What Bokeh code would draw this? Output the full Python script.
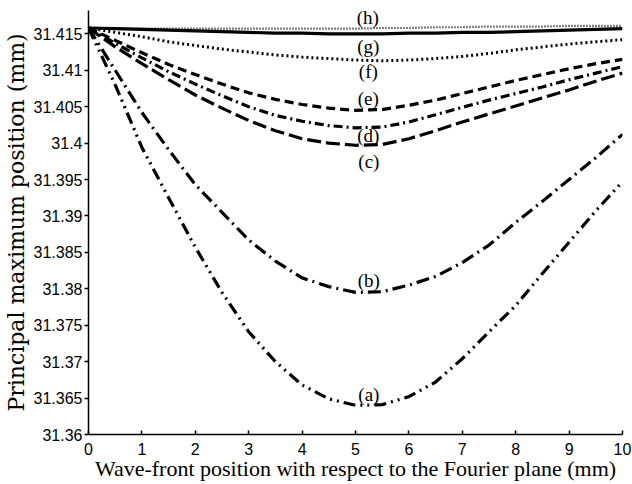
from bokeh.plotting import figure
from bokeh.models import Range1d, FixedTicker
from bokeh.embed import file_html
from bokeh.resources import INLINE
from bokeh.core.properties import value

# Wave-front position (mm)
x_mm = [0.0, 0.5, 1.0, 1.5, 2.0, 2.5, 3.0, 3.5, 4.0, 4.5, 5.0,
        5.5, 6.0, 6.5, 7.0, 7.5, 8.0, 8.5, 9.0, 9.5, 10.0]

# Principal maximum position (mm) for each case
curve_a = [31.4158, 31.4080, 31.3994, 31.3925, 31.3857, 31.3795, 31.3741, 31.3700, 31.3668, 31.3649, 31.3640,
           31.3641, 31.3652, 31.3672, 31.3704, 31.3741, 31.3777, 31.3821, 31.3864, 31.3907, 31.3947]
curve_b = [31.4158, 31.4100, 31.4042, 31.3991, 31.3943, 31.3905, 31.3867, 31.3838, 31.3815, 31.3803, 31.3795,
           31.3796, 31.3805, 31.3817, 31.3836, 31.3860, 31.3891, 31.3920, 31.3950, 31.3980, 31.4012]
curve_c = [31.4158, 31.4132, 31.4109, 31.4087, 31.4066, 31.4048, 31.4031, 31.4017, 31.4006, 31.4000, 31.3997,
           31.3998, 31.4006, 31.4017, 31.4029, 31.4040, 31.4051, 31.4062, 31.4073, 31.4085, 31.4096]
curve_d = [31.4158, 31.4137, 31.4117, 31.4098, 31.4081, 31.4065, 31.4050, 31.4038, 31.4030, 31.4024, 31.4021,
           31.4022, 31.4029, 31.4039, 31.4049, 31.4059, 31.4068, 31.4077, 31.4087, 31.4096, 31.4105]
curve_e = [31.4158, 31.4141, 31.4124, 31.4108, 31.4094, 31.4081, 31.4069, 31.4060, 31.4053, 31.4048, 31.4045,
           31.4046, 31.4052, 31.4059, 31.4068, 31.4077, 31.4086, 31.4094, 31.4102, 31.4109, 31.4115]
curve_f = [31.4158, 31.4152, 31.4146, 31.4139, 31.4134, 31.4129, 31.4125, 31.4121, 31.4118, 31.4116, 31.4114,
           31.4113, 31.4114, 31.4116, 31.4119, 31.4123, 31.4128, 31.4132, 31.4136, 31.4139, 31.4142]
curve_g = [31.4158, 31.4157, 31.4156, 31.4155, 31.4154, 31.4153, 31.4152, 31.4151, 31.4151, 31.4150, 31.4150,
           31.4150, 31.4151, 31.4151, 31.4152, 31.4152, 31.4153, 31.4154, 31.4155, 31.4156, 31.4157]
curve_h = [31.4158, 31.4158, 31.4157, 31.4157, 31.4157, 31.4157, 31.4157, 31.4157, 31.4157, 31.4157, 31.4157,
           31.4158, 31.4158, 31.4159, 31.4159, 31.4160, 31.4160, 31.4160, 31.4161, 31.4161, 31.4161]

# Curve tags and where they are written
tag_text = ["(a)", "(b)", "(c)", "(d)", "(e)", "(f)", "(g)", "(h)"]
tag_x = [5.25, 5.25, 5.25, 5.24, 5.24, 5.24, 5.24, 5.23]
tag_y = [31.3655, 31.3811, 31.3975, 31.4011, 31.4061, 31.4098, 31.4133, 31.4172]

# Axis ticks
x_ticks = [0, 1, 2, 3, 4, 5, 6, 7, 8, 9, 10]
y_ticks = [31.36, 31.365, 31.37, 31.375, 31.38, 31.385, 31.39, 31.395, 31.4, 31.405, 31.41, 31.415]
y_tick_labels = ["31.36", "31.365", "31.37", "31.375", "31.38", "31.385", "31.39", "31.395",
                 "31.4", "31.405", "31.41", "31.415"]

p = figure(width=632, height=484, output_backend="svg", toolbar_location=None,
           x_range=Range1d(0, 10), y_range=Range1d(31.36, 31.4182),
           min_border_left=87, min_border_right=10, min_border_top=10, min_border_bottom=50)
p.outline_line_color = None
p.grid.visible = False
p.background_fill_color = "white"
p.border_fill_color = "white"

# line styles per curve
styles = [
    (curve_a, "12 5 2 5 2 5", 3.2),
    (curve_b, "13 5 2 5", 3.2),
    (curve_c, "14 5", 3.2),
    (curve_d, "9 4 2 4", 3.2),
    (curve_e, "9 5", 3.2),
    (curve_f, "2 3", 3.0),
    (curve_g, "solid", 3.2),
    (curve_h, "1 2", 2.2),
]
for ys, dash, w in styles:
    p.line(x_mm, ys, line_color="black", line_width=w, line_dash=dash)

p.text(x=tag_x, y=tag_y, text=tag_text, text_align="center", text_baseline="middle",
       text_font=value("Liberation Serif"), text_font_size="19px", text_color="black")

p.xaxis.ticker = FixedTicker(ticks=x_ticks)
p.yaxis.ticker = FixedTicker(ticks=y_ticks)
p.yaxis.major_label_overrides = dict(zip(y_ticks, y_tick_labels))

for ax in (p.xaxis, p.yaxis):
    ax.axis_line_width = 1.5
    ax.axis_line_color = "black"
    ax.major_tick_line_width = 1.5
    ax.major_tick_line_color = "black"
    ax.minor_tick_line_color = None
    ax.major_label_text_font = "Liberation Sans"
    ax.major_label_text_font_size = "16px"
    ax.major_label_text_color = "black"
    ax.axis_label_text_font_style = "normal"
    ax.axis_label_text_color = "black"

p.xaxis.major_tick_in = 4
p.xaxis.major_tick_out = 0
p.xaxis.major_label_standoff = 8
p.xaxis.axis_label = "Wave-front position with respect to the Fourier plane (mm)"
p.xaxis.axis_label_text_font = "Liberation Serif"
p.xaxis.axis_label_text_font_size = "22px"
p.xaxis.axis_label_standoff = -2

p.yaxis.major_tick_in = 0
p.yaxis.major_tick_out = 4
p.yaxis.major_label_standoff = 2
p.yaxis.axis_label = "Principal maximum position (mm)"
p.yaxis.axis_label_text_font = "DejaVu Serif"
p.yaxis.axis_label_text_font_size = "22px"
p.yaxis.axis_label_standoff = 2

open("out.html", "w").write(file_html(p, INLINE))
